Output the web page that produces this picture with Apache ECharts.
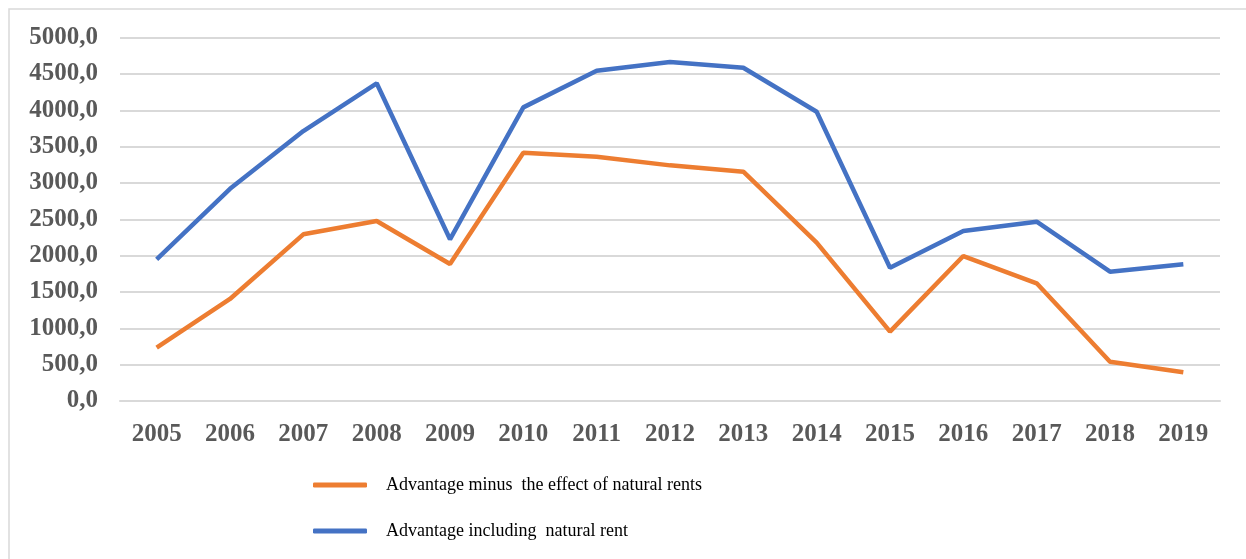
<!DOCTYPE html>
<html><head><meta charset="utf-8">
<script src="https://cdn.jsdelivr.net/npm/echarts@6/dist/echarts.min.js"></script>
<style>html,body{margin:0;padding:0;background:#fff}#c{width:1246px;height:559px}</style>
</head><body><div id="c"></div>
<script>
const years = ['2005','2006','2007','2008','2009','2010','2011','2012','2013','2014','2015','2016','2017','2018','2019'];
const minusRent = [734,1404,2294,2477,1885,3417,3362,3243,3156,2180,954,1995,1620,541,395];
const includingRent = [1950,2920,3715,4372,2225,4041,4545,4665,4587,3981,1834,2339,2468,1780,1881];
const nameMinus = 'Advantage minus  the effect of natural rents';
const nameIncl = 'Advantage including  natural rent';

const chart = echarts.init(document.getElementById('c'), null, {renderer:'canvas'});
chart.setOption({
  animation:false,
  backgroundColor:'#fff',
  graphic:[{type:'rect',shape:{x:9,y:9,width:1240,height:560},style:{fill:'none',stroke:'#d9d9d9',lineWidth:1.5},silent:true}],
  grid:{left:120,right:26,top:37.7,bottom:158},
  legend:{
    orient:'vertical',left:308,top:471,itemGap:28,
    itemWidth:54,itemHeight:5,icon:'roundRect',
    data:[nameMinus,nameIncl],
    textStyle:{fontFamily:'Liberation Serif',fontSize:18,color:'#000',padding:[0,0,0,14]}
  },
  xAxis:{type:'category',data:years,boundaryGap:true,
    axisLine:{show:true,lineStyle:{color:'#d9d9d9',width:2}},axisTick:{show:false},
    axisLabel:{fontFamily:'Liberation Serif',fontWeight:'bold',fontSize:25,color:'#595959',margin:21}},
  yAxis:{type:'value',min:0,max:5000,interval:500,
    axisLine:{show:false},axisTick:{show:false},
    splitLine:{lineStyle:{color:'#d9d9d9',width:2}},
    axisLabel:{fontFamily:'Liberation Serif',fontWeight:'bold',fontSize:25,color:'#595959',margin:22,
      formatter:v=>v.toFixed(1).replace('.',',')}},
  series:[
    {name:nameMinus,type:'line',data:minusRent,showSymbol:false,symbol:'none',lineStyle:{color:'#ED7D31',width:4.5},itemStyle:{color:'#ED7D31'}},
    {name:nameIncl,type:'line',data:includingRent,showSymbol:false,symbol:'none',lineStyle:{color:'#4472C4',width:4.5},itemStyle:{color:'#4472C4'}}
  ]
});
</script></body></html>
